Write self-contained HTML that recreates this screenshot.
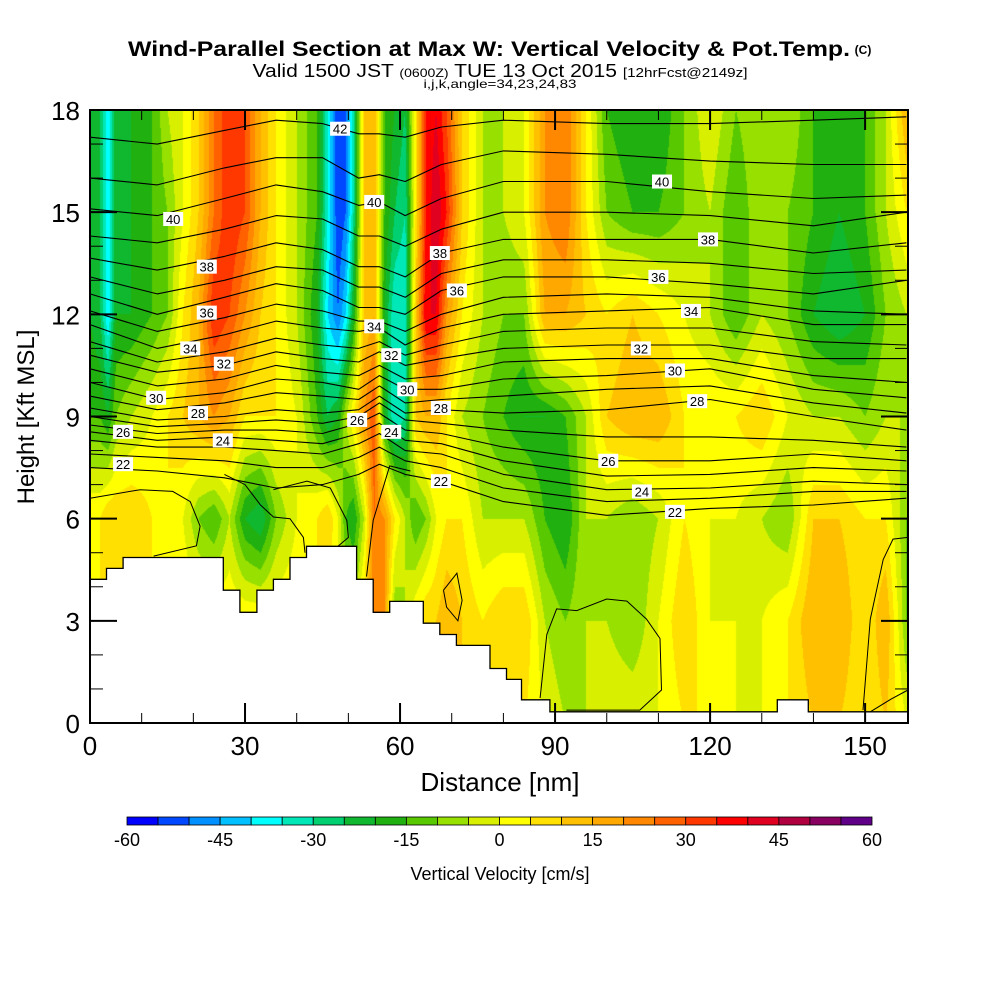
<!DOCTYPE html>
<html><head><meta charset="utf-8">
<style>
html,body{margin:0;padding:0;background:#fff;width:1000px;height:1000px;overflow:hidden}
#wrap{position:relative;width:1000px;height:1000px}
canvas{position:absolute;left:90px;top:110px}
svg{position:absolute;left:0;top:0}
text{font-family:"Liberation Sans",sans-serif}
</style></head>
<body>
<div id="wrap">
<canvas id="cv" width="818" height="613"></canvas>
<svg id="sv" width="1000" height="1000">
  <text x="489" y="56" text-anchor="middle" font-size="21" font-weight="bold" textLength="722" lengthAdjust="spacingAndGlyphs">Wind-Parallel Section at Max W: Vertical Velocity &amp; Pot.Temp.</text>
  <text x="863" y="54" text-anchor="middle" font-size="12" font-weight="bold">(C)</text>
  <text x="500" y="77" text-anchor="middle" font-size="18" textLength="495" lengthAdjust="spacingAndGlyphs">Valid 1500 JST <tspan font-size="12">(0600Z)</tspan> TUE 13 Oct 2015 <tspan font-size="13">[12hrFcst@2149z]</tspan></text>
  <text x="500" y="88" text-anchor="middle" font-size="12" textLength="153" lengthAdjust="spacingAndGlyphs">i,j,k,angle=34,23,24,83</text>
  <g id="contours"></g>
  <g id="terrain"></g>
  <g id="labels"></g>
  <g id="axes"></g>
  <text x="500" y="791" text-anchor="middle" font-size="26">Distance [nm]</text>
  <text transform="translate(34,417) rotate(-90)" text-anchor="middle" font-size="24">Height [Kft MSL]</text>
  <g id="cbar"></g>
  <text x="500" y="880" text-anchor="middle" font-size="18">Vertical Velocity [cm/s]</text>
</svg>
</div>
<script>
// ---------- data ----------
const xs=[0,2,3.5,5,8,12,15,18,21,24,27,30,33,36,40,44,46,48,49.5,51,53,55,57,59,61,63,65,67,69,72,76,80,84,88,92,96,100,105,110,115,120,125,130,135,140,145,150,154,158];
const rowHeights=[0,3,6,9,12,15,18];
const w0=[5,5,5,5,5,5,5,5,5,5,5,5,5,5,5,5,5,5,5,5,10,20,15,5,5,5,10,10,10,10,5,5,5,0,-5,-5,0,0,0,5,5,0,0,5,10,10,5,10,0];
const w3=[5,5,5,5,5,5,5,5,5,5,5,5,5,5,5,5,5,0,0,-5,10,25,20,-10,-5,5,10,10,15,10,5,10,10,-5,-10,-5,-5,-10,0,10,0,0,0,5,15,15,5,15,-10];
const w6=[5,5,10,10,10,5,5,0,-10,-15,-5,-20,-25,-10,0,5,10,0,-15,-20,-5,25,20,5,-5,-15,-10,0,5,5,-5,-5,-5,-15,-20,-5,-5,-10,-5,5,0,0,-5,-10,10,10,5,5,-10];
const w9=[-15,-15,-20,-10,-5,0,5,10,15,20,15,5,5,5,0,-15,-25,-20,-5,5,20,30,-20,-35,-30,10,15,15,5,-5,-10,-15,-20,-20,-15,-5,10,15,15,5,5,5,10,0,-5,-5,-10,-5,-5];
const w12=[-20,-25,-40,-20,-20,-15,-10,5,15,35,30,20,10,5,-5,-20,-40,-50,-40,-20,10,15,-20,-35,-35,10,40,40,20,5,-5,-10,-10,15,15,10,5,10,5,0,-5,-15,-5,-10,-20,-25,-20,-10,-5];
const w15=[-20,-25,-40,-20,-20,-15,-10,0,10,25,35,30,15,5,-5,-15,-35,-55,-50,-30,10,15,-15,-25,-30,5,35,45,35,10,-5,-5,0,20,25,5,-10,-15,-15,-10,-5,-15,-5,-10,-15,-20,-15,-5,5];
const w18=[-20,-25,-40,-20,-20,-15,-5,0,10,25,35,30,15,5,-5,-15,-35,-55,-50,-30,10,15,-15,-20,-25,5,35,40,30,10,-5,-5,0,20,25,5,-15,-20,-20,-10,0,-10,-5,-5,-15,-15,-15,-5,15];
const wRows=[w0,w3,w6,w9,w12,w15,w18];
const cbColors=["#0000ff","#0048ff","#0090ff","#00c0ff","#00ffff","#00e8b8","#00d070","#10b830","#20b010","#58c800","#98e000","#d8f000","#ffff00","#ffe000","#ffc000","#ffa800","#ff8800","#ff6000","#ff3800","#ff0000","#e00020","#b00040","#880060","#600088"];
const cbTicks=[-60,-45,-30,-15,0,15,30,45,60];
const xTicks=[0,30,60,90,120,150];
const yTicks=[0,3,6,9,12,15,18];
// theta contours: heights (kft) at stations
const thStations=[0,13,26,36,45,52,56,61,68,80,100,120,140,158];
const thLevels=[22,23,24,25,26,27,28,29,30,31,32,33,34,35,36,37,38,39,40,41,42];
const th22=[7.5,7.4,7.2,6.9,7.0,7.3,7.6,7.3,7.1,6.5,6.1,6.3,6.4,6.6];
const th23=[7.9,7.8,7.7,7.5,7.5,7.8,8.1,7.7,7.5,6.9,6.5,6.6,6.8,6.8];
const th24=[8.3,8.1,8.1,8.0,7.9,8.2,8.5,8.0,7.9,7.3,6.85,6.9,7.1,7.0];
const th25=[8.55,8.3,8.4,8.3,8.2,8.5,8.8,8.3,8.2,7.7,7.25,7.3,7.5,7.4];
const th26=[8.75,8.5,8.6,8.6,8.5,8.8,9.1,8.6,8.5,8.1,7.7,7.7,7.9,7.7];
const th27=[9.0,8.7,8.8,8.9,8.8,9.0,9.4,8.9,8.8,8.6,8.4,8.4,8.3,8.1];
const th28=[9.25,8.9,9.0,9.2,9.1,9.2,9.6,9.1,9.2,9.1,9.2,9.5,9.0,8.6];
const th29=[9.6,9.2,9.4,9.7,9.6,9.5,9.9,9.4,9.5,9.6,9.8,9.9,9.4,9.1];
const th30=[10.0,9.5,9.7,10.1,10.0,9.8,10.2,9.8,9.8,10.1,10.2,10.4,9.8,9.55];
const th31=[10.4,9.9,10.1,10.5,10.3,10.2,10.5,10.1,10.2,10.6,10.7,10.7,10.2,10.0];
const th32=[10.8,10.3,10.5,10.9,10.7,10.6,10.9,10.5,10.7,11.0,11.1,11.1,10.7,10.7];
const th33=[11.2,10.6,10.9,11.3,11.1,11.0,11.2,10.8,11.1,11.5,11.6,11.6,11.2,11.1];
const th34=[11.7,11.0,11.4,11.8,11.6,11.5,11.6,11.1,11.6,12.0,12.1,12.2,11.7,11.7];
const th35=[12.1,11.5,11.9,12.3,12.1,11.8,11.8,11.5,12.0,12.5,12.6,12.5,12.1,12.0];
const th36=[12.6,12.0,12.5,12.9,12.7,12.2,12.2,12.0,12.7,13.1,13.1,12.9,12.6,13.0];
const th37=[13.1,12.6,13.0,13.4,13.3,12.8,12.8,12.5,13.2,13.6,13.6,13.5,13.2,13.3];
const th38=[13.65,13.3,13.7,14.1,13.9,13.4,13.4,13.1,13.8,14.2,14.2,14.2,13.8,14.1];
const th39=[14.3,14.1,14.5,14.9,14.8,14.3,14.3,14.0,14.5,15.0,15.0,14.9,14.6,15.0];
const th40=[15.1,14.9,15.4,15.8,15.6,15.2,15.3,14.9,15.4,15.9,15.9,15.6,15.4,15.5];
const th41=[16.0,15.8,16.3,16.6,16.6,16.0,16.1,15.9,16.4,16.8,16.7,16.5,16.4,16.4];
const th42=[17.2,17.0,17.4,17.7,17.6,17.3,17.3,17.2,17.5,17.7,17.6,17.6,17.7,17.8];
const thHeights=[th22,th23,th24,th25,th26,th27,th28,th29,th30,th31,th32,th33,th34,th35,th36,th37,th38,th39,th40,th41,th42];
// extra contour segments [nm,kft]
const extraLines=[
 [[0,6.6],[9.7,6.85],[16,6.8],[19.4,6.5],[21.3,5.78],[20.6,5.2],[12.3,4.9]],
 [[26,7.3],[30,7.0],[33,6.4],[35.5,6.05],[38.7,6.0],[41.3,5.45],[41.6,5.0]],
 [[35.5,6.85],[42,7.1],[46.5,6.9],[49.7,5.95],[50,5.45],[48,5.19]],
 [[53.5,4.3],[54.8,5.95],[58,7.55],[62,7.4]],
 [[87.1,0.73],[88.4,2.6],[90.3,3.35],[94.2,3.3],[100,3.64],[103.9,3.58],[107.7,3.05],[110.3,2.48],[110.6,0.97],[106.4,0.38],[92.2,0.38]],
 [[149.6,0.38],[151,3.05],[153.5,4.8],[155.4,5.4],[158.3,5.45]],
 [[151,0.33],[155,0.7],[158.3,0.97]],
 [[68.4,3.9],[71,4.4],[72,3.6],[71.2,3.0],[69,3.4],[68.4,3.9]]
];
// terrain steps: [startNm, endNm, heightKft]
const terrainSteps=[[0,3.2,4.22],[3.2,6.4,4.54],[6.4,25.8,4.86],[25.8,29,3.9],[29,32.3,3.25],[32.3,35.5,3.9],[35.5,38.7,4.22],[38.7,41.9,4.86],[41.9,51.6,5.19],[51.6,54.8,4.22],[54.8,58,3.25],[58,64.5,3.57],[64.5,67.7,2.93],[67.7,70.9,2.6],[70.9,77.4,2.28],[77.4,80.6,1.6],[80.6,83.5,1.28],[83.5,89,0.68],[89,133,0.33],[133,139,0.68],[139,158.3,0.33]];

// ---------- axes functions ----------
const X0=90,X1=908,Y0=723,Y1=110,XMAX=158.3,YMAX=18;
const sx=v=>X0+v*(X1-X0)/XMAX;
const sy=v=>Y0-v*(Y0-Y1)/YMAX;
const NS="http://www.w3.org/2000/svg";
function mk(tag,attrs,parent){const e=document.createElementNS(NS,tag);for(const k in attrs)e.setAttribute(k,attrs[k]);parent.appendChild(e);return e;}

// ---------- field ----------
function interp1(arr,x){
  let i=0;while(i<xs.length-2&&x>xs[i+1])i++;
  const t=Math.max(0,Math.min(1,(x-xs[i])/(xs[i+1]-xs[i])));
  return arr[i]*(1-t)+arr[i+1]*t;
}
function field(x,h){
  let j=Math.min(rowHeights.length-2,Math.max(0,Math.floor(h/3)));
  const t=Math.max(0,Math.min(1,(h-rowHeights[j])/(rowHeights[j+1]-rowHeights[j])));
  return interp1(wRows[j],x)*(1-t)+interp1(wRows[j+1],x)*t;
}
const cv=document.getElementById('cv');const ctx=cv.getContext('2d');
const img=ctx.createImageData(818,613);
const rgb=cbColors.map(c=>[parseInt(c.substr(1,2),16),parseInt(c.substr(3,2),16),parseInt(c.substr(5,2),16)]);
for(let py=0;py<613;py++){
  const h=(Y0-(110+py+0.5))*YMAX/(Y0-Y1);
  for(let px=0;px<818;px++){
    const x=(px+0.5)*XMAX/(X1-X0);
    const v=field(x,h);
    let idx=Math.ceil((v+60)/5)-1;idx=Math.max(0,Math.min(23,idx));
    const o=(py*818+px)*4,c=rgb[idx];
    img.data[o]=c[0];img.data[o+1]=c[1];img.data[o+2]=c[2];img.data[o+3]=255;
  }
}
ctx.putImageData(img,0,0);

// ---------- contours ----------
const cg=document.getElementById('contours');
thLevels.forEach((lv,k)=>{
  const d=thStations.map((s,i)=>(i?'L':'M')+sx(s).toFixed(1)+','+sy(thHeights[k][i]).toFixed(1)).join('');
  const p=mk('path',{d:d,fill:'none',stroke:'#000','stroke-width':1.1,'stroke-linejoin':'round'},cg);
  
  
});
extraLines.forEach((ln,k)=>{
  const d=ln.map((pt,i)=>(i?'L':'M')+sx(pt[0]).toFixed(1)+','+sy(pt[1]).toFixed(1)).join('');
  const p=mk('path',{d:d,fill:'none',stroke:'#000','stroke-width':1},cg);
  
  
});

// ---------- terrain ----------
const tg=document.getElementById('terrain');
let td='M'+sx(0)+','+sy(0);
terrainSteps.forEach(s=>{td+='L'+sx(s[0]).toFixed(1)+','+sy(s[2]).toFixed(1)+'L'+sx(s[1]).toFixed(1)+','+sy(s[2]).toFixed(1);});
td+='L'+sx(XMAX)+','+sy(0)+'Z';
const tp=mk('path',{d:td,fill:'#fff',stroke:'#000','stroke-width':1.3},tg);



// ---------- contour labels ----------
const lg=document.getElementById('labels');
const labelPos=[[42,48.4,17.45],[40,16.1,14.8],[40,55,15.3],[40,110.7,15.9],[38,22.6,13.4],[38,67.7,13.8],[38,119.6,14.2],[36,22.6,12.05],[36,71,12.7],[36,110,13.1],[34,19.4,11.0],[34,55,11.65],[34,116.3,12.1],[32,25.9,10.55],[32,58.3,10.8],[32,106.6,11.0],[30,12.8,9.55],[30,61.4,9.8],[30,113.2,10.35],[28,20.9,9.1],[28,67.9,9.25],[28,117.5,9.45],[26,6.4,8.55],[26,51.7,8.9],[26,100.3,7.7],[24,25.7,8.3],[24,58.3,8.55],[24,106.8,6.8],[22,6.4,7.6],[22,67.9,7.1],[22,113.2,6.2]];
labelPos.forEach(l=>{
  const g=mk('g',{},lg);
  
  
  mk('rect',{x:sx(l[1])-10,y:sy(l[2])-7,width:20,height:14,fill:'#fff'},g);
  const t=mk('text',{x:sx(l[1]),y:sy(l[2])+5,'text-anchor':'middle','font-size':13},g);
  t.textContent=l[0];
});

// ---------- axes ----------
const ag=document.getElementById('axes');
const fr=mk('rect',{x:X0,y:Y1,width:X1-X0,height:Y0-Y1,fill:'none',stroke:'#000','stroke-width':2},ag);


for(let v=0;v<=158;v+=10){
  const maj=v%30===0,L=maj?20:10;
  mk('line',{x1:sx(v),x2:sx(v),y1:Y0,y2:Y0-L,stroke:'#000','stroke-width':maj?2:1},ag);
  mk('line',{x1:sx(v),x2:sx(v),y1:Y1,y2:Y1+L,stroke:'#000','stroke-width':maj?2:1},ag);
}
for(let v=0;v<=18;v+=1){
  const maj=v%3===0,L=maj?27:13;
  mk('line',{x1:X0,x2:X0+L,y1:sy(v),y2:sy(v),stroke:'#000','stroke-width':maj?2:1},ag);
  mk('line',{x1:X1,x2:X1-L,y1:sy(v),y2:sy(v),stroke:'#000','stroke-width':maj?2:1},ag);
}
xTicks.forEach(v=>{
  const t=mk('text',{x:sx(v),y:755,'text-anchor':'middle','font-size':26},ag);
  
  
  t.textContent=v;
});
yTicks.forEach(v=>{
  const t=mk('text',{x:80,y:sy(v)+10,'text-anchor':'end','font-size':26},ag);
  
  
  t.textContent=v;
});

// ---------- colorbar ----------
const cb=document.getElementById('cbar');
const CB0=127,CB1=872,cw=(CB1-CB0)/cbColors.length;
cbColors.forEach((c,i)=>{
  const r=mk('rect',{x:CB0+i*cw,y:817,width:cw,height:8,fill:c,stroke:'#000','stroke-width':0.8},cb);
  
  
});
cbTicks.forEach(v=>{
  const t=mk('text',{x:CB0+(v+60)/120*(CB1-CB0),y:846,'text-anchor':'middle','font-size':18},cb);
  
  
  t.textContent=v;
});
</script>
</body></html>
